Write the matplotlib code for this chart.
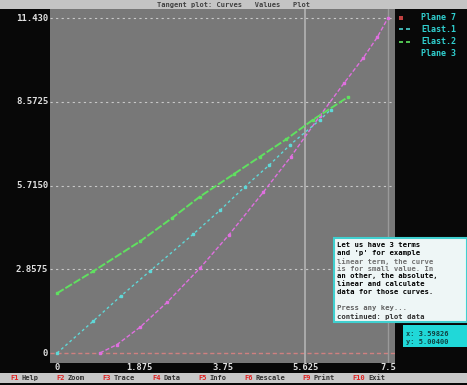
import matplotlib
matplotlib.use("Agg")
import matplotlib.pyplot as plt
import matplotlib.transforms as mtransforms
from matplotlib.patches import Rectangle

# curve samples (x, y)
plane_x = [0.97, 1.36, 1.88, 2.5, 3.24, 3.9, 4.67, 5.3, 5.96, 6.5, 6.94, 7.26, 7.5]
plane_y = [0.0, 0.29, 0.88, 1.74, 2.90, 4.04, 5.48, 6.70, 8.10, 9.20, 10.07, 10.78, 11.43]

elast1_x = [0.0, 0.82, 1.45, 2.1, 3.08, 3.7, 4.26, 4.8, 5.28, 5.96, 6.2]
elast1_y = [0.0, 1.09, 1.95, 2.79, 4.05, 4.88, 5.68, 6.40, 7.10, 7.96, 8.30]

elast2_x = [0.0, 0.82, 1.88, 2.6, 3.24, 4.0, 4.6, 5.2, 5.8, 6.6]
elast2_y = [2.04, 2.79, 3.81, 4.60, 5.34, 6.10, 6.70, 7.30, 7.96, 8.74]

xticks = [0, 1.875, 3.75, 5.625, 7.5]
xtick_labels = ["0", "1.875", "3.75", "5.625", "7.5"]
yticks = [0, 2.8575, 5.715, 8.5725, 11.43]
ytick_labels = ["0", "2.8575", "5.7150", "8.5725", "11.430"]

legend_labels = ["Plane 7", "Elast.1", "Elast.2", "Plane 3"]

note_lines = [
    ("Let us have 3 terms", "black"),
    ("and 'p' for example", "black"),
    ("linear term, the curve", "#707070"),
    ("is for small value. In", "#707070"),
    ("an other, the absolute,", "black"),
    ("linear and calculate", "black"),
    ("data for those curves.", "black"),
    ("Press any key...", "#606060"),
    ("continued: plot data", "#303030"),
]
cursor_lines = ["x: 3.59826", "y: 5.00400"]

W, H = 467, 385
fig = plt.figure(figsize=(W / 100, H / 100), dpi=100)
fig.patch.set_facecolor("#080808")
mono = "DejaVu Sans Mono"


def fx(px):
    return px / W


def fy(py):
    return 1 - py / H


# title strip
fig.add_artist(Rectangle((0, fy(9)), 1, 9 / H, transform=fig.transFigure,
                         facecolor="#c4c4c4", edgecolor="none"))
fig.text(0.5, fy(4.5), "Tangent plot: Curves   Values   Plot", ha="center", va="center",
         fontsize=5, family=mono, color="#404040", weight="bold")

ax = fig.add_axes([fx(50), fy(363), fx(395) - fx(50), fy(9) - fy(363)])
ax.set_facecolor("#787878")
ax.set_xlim(-0.16, 7.66)
ax.set_ylim(-0.34, 11.74)
for s in ax.spines.values():
    s.set_visible(False)
ax.set_xticks([])
ax.set_yticks([])

# grid and axes lines
for yv in yticks[1:]:
    ax.axhline(yv, color="#c8c8c8", lw=0.8, ls=(0, (2, 3)), zorder=1)
ax.axhline(0, color="#d08080", lw=1.0, ls=(0, (3, 2)), zorder=1)
ax.axvline(5.625, color="#b4b4b4", lw=1.2, zorder=1)
ax.axvline(7.5, color="#9a9a9a", lw=1.0, zorder=1)

ax.plot(plane_x, plane_y, color="#e070e0", lw=1.0, ls=(0, (3, 1.5)),
        marker="s", ms=2, zorder=3)
ax.plot(elast1_x, elast1_y, color="#60d8d8", lw=1.0, ls=(0, (2, 2)),
        marker="s", ms=2, zorder=3)
ax.plot(elast2_x, elast2_y, color="#60e060", lw=1.4, ls=(0, (4, 1)),
        marker="s", ms=2, zorder=3)

# tick labels
xlab_tr = mtransforms.blended_transform_factory(ax.transData, fig.transFigure)
for xv, lab in zip(xticks, xtick_labels):
    ax.text(xv, fy(367), lab, transform=xlab_tr, ha="center", va="center",
            fontsize=6.3, family=mono, color="#e0e0e0", weight="bold", clip_on=False)
for yv, lab in zip(yticks, ytick_labels):
    ax.text(-0.2, yv, lab, ha="right", va="center", fontsize=6.5, family=mono,
            color="#e0e0e0", weight="bold", clip_on=False)

# legend
leg_y = [18, 29, 42, 53]
leg_marks = ["s", "--", "--", None]
leg_colors = ["#c04040", "#40b0b0", "#50c050", None]
for py, lab, m, c in zip(leg_y, legend_labels, leg_marks, leg_colors):
    if m == "s":
        fig.add_artist(Rectangle((fx(399), fy(py + 2)), 4 / W, 4 / H,
                                 transform=fig.transFigure, facecolor=c, edgecolor="none"))
    elif m == "--":
        for x0 in (399, 406):
            fig.add_artist(Rectangle((fx(x0), fy(py + 1)), 4 / W, 2 / H,
                                     transform=fig.transFigure, facecolor=c, edgecolor="none"))
    fig.text(fx(421), fy(py), lab, ha="left", va="center", fontsize=6, family=mono,
             color="#30d0d0", weight="bold")

# note box
fig.add_artist(Rectangle((fx(334), fy(322)), (467 - 334) / W, (322 - 238) / H,
                         transform=fig.transFigure, facecolor="#eef6f6",
                         edgecolor="#40d0d0", lw=1.5))
note_y = [245, 253, 262, 269, 276, 284, 292, 308, 317]
for py, (line, c) in zip(note_y, note_lines):
    fig.text(fx(337), fy(py), line, ha="left", va="center", fontsize=5.2,
             family=mono, color=c, weight="bold")

# cursor box
fig.add_artist(Rectangle((fx(403), fy(347)), (467 - 403) / W, (347 - 325) / H,
                         transform=fig.transFigure, facecolor="#20d8d8", edgecolor="none"))
for py, line in zip([334, 342], cursor_lines):
    fig.text(fx(406), fy(py), line, ha="left", va="center", fontsize=5,
             family=mono, color="#104040", weight="bold")

# status bar
fig.add_artist(Rectangle((0, fy(383)), 1, 10 / H, transform=fig.transFigure,
                         facecolor="#c8c8c8", edgecolor="none"))
status = [("F1", "#e02020"), ("Help", "#303030"), ("F2", "#e02020"), ("Zoom", "#303030"),
          ("F3", "#e02020"), ("Trace", "#303030"), ("F4", "#e02020"), ("Data", "#303030"),
          ("F5", "#e02020"), ("Info", "#303030"), ("F6", "#e02020"), ("Rescale", "#303030"),
          ("F9", "#e02020"), ("Print", "#303030"), ("F10", "#e02020"), ("Exit", "#303030")]
px = 10
for i, (txt, c) in enumerate(status):
    fig.text(fx(px), fy(378), txt, ha="left", va="center", fontsize=5,
             family=mono, color=c, weight="bold")
    px += len(txt) * 5 * 0.6 * 100 / 72 + (3 if i % 2 == 0 else 18)

fig.savefig("out.png", dpi=100, facecolor=fig.get_facecolor())
